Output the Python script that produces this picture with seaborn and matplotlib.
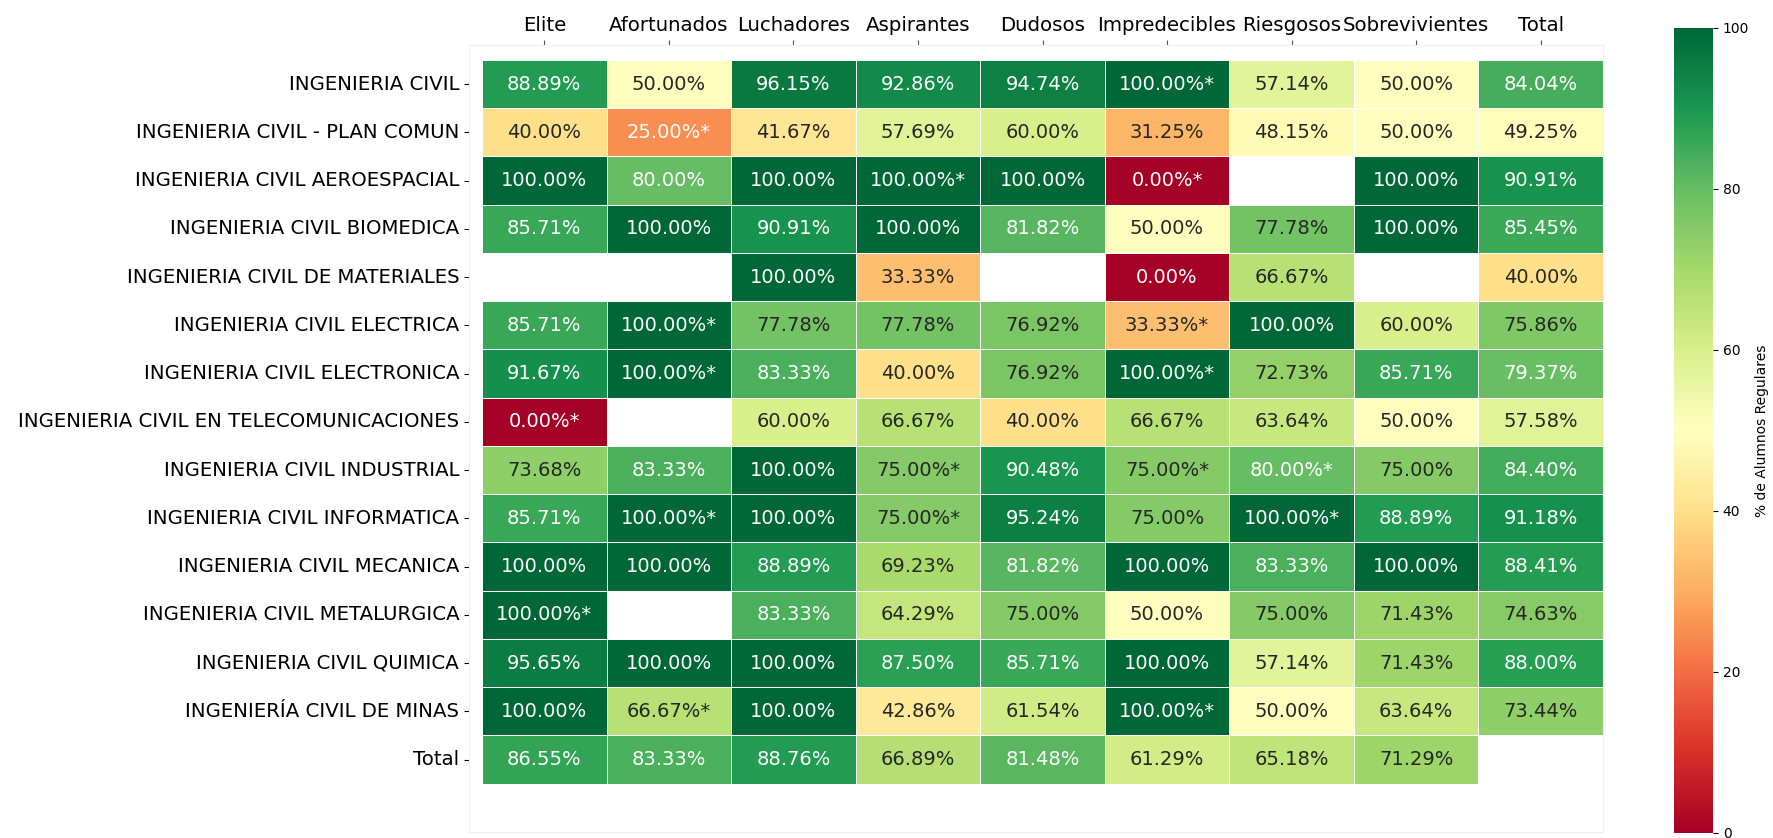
import matplotlib
matplotlib.use("Agg")
import matplotlib.pyplot as plt
import numpy as np
import pandas as pd
import seaborn as sns

nan = np.nan

columnas = ["Elite", "Afortunados", "Luchadores", "Aspirantes", "Dudosos",
            "Impredecibles", "Riesgosos", "Sobrevivientes", "Total"]

carreras = ["INGENIERIA CIVIL",
            "INGENIERIA CIVIL - PLAN COMUN",
            "INGENIERIA CIVIL AEROESPACIAL",
            "INGENIERIA CIVIL BIOMEDICA",
            "INGENIERIA CIVIL DE MATERIALES",
            "INGENIERIA CIVIL ELECTRICA",
            "INGENIERIA CIVIL ELECTRONICA",
            "INGENIERIA CIVIL EN TELECOMUNICACIONES",
            "INGENIERIA CIVIL INDUSTRIAL",
            "INGENIERIA CIVIL INFORMATICA",
            "INGENIERIA CIVIL MECANICA",
            "INGENIERIA CIVIL METALURGICA",
            "INGENIERIA CIVIL QUIMICA",
            "INGENIERÍA CIVIL DE MINAS",
            "Total"]

# % de alumnos regulares
valores = [
    [88.89, 50.00, 96.15, 92.86, 94.74, 100.00, 57.14, 50.00, 84.04],
    [40.00, 25.00, 41.67, 57.69, 60.00, 31.25, 48.15, 50.00, 49.25],
    [100.00, 80.00, 100.00, 100.00, 100.00, 0.00, nan, 100.00, 90.91],
    [85.71, 100.00, 90.91, 100.00, 81.82, 50.00, 77.78, 100.00, 85.45],
    [nan, nan, 100.00, 33.33, nan, 0.00, 66.67, nan, 40.00],
    [85.71, 100.00, 77.78, 77.78, 76.92, 33.33, 100.00, 60.00, 75.86],
    [91.67, 100.00, 83.33, 40.00, 76.92, 100.00, 72.73, 85.71, 79.37],
    [0.00, nan, 60.00, 66.67, 40.00, 66.67, 63.64, 50.00, 57.58],
    [73.68, 83.33, 100.00, 75.00, 90.48, 75.00, 80.00, 75.00, 84.40],
    [85.71, 100.00, 100.00, 75.00, 95.24, 75.00, 100.00, 88.89, 91.18],
    [100.00, 100.00, 88.89, 69.23, 81.82, 100.00, 83.33, 100.00, 88.41],
    [100.00, nan, 83.33, 64.29, 75.00, 50.00, 75.00, 71.43, 74.63],
    [95.65, 100.00, 100.00, 87.50, 85.71, 100.00, 57.14, 71.43, 88.00],
    [100.00, 66.67, 100.00, 42.86, 61.54, 100.00, 50.00, 63.64, 73.44],
    [86.55, 83.33, 88.76, 66.89, 81.48, 61.29, 65.18, 71.29, nan],
]

# celdas marcadas con "*"
asteriscos = [
    [0, 0, 0, 0, 0, 1, 0, 0, 0],
    [0, 1, 0, 0, 0, 0, 0, 0, 0],
    [0, 0, 0, 1, 0, 1, 0, 0, 0],
    [0, 0, 0, 0, 0, 0, 0, 0, 0],
    [0, 0, 0, 0, 0, 0, 0, 0, 0],
    [0, 1, 0, 0, 0, 1, 0, 0, 0],
    [0, 1, 0, 0, 0, 1, 0, 0, 0],
    [1, 0, 0, 0, 0, 0, 0, 0, 0],
    [0, 0, 0, 1, 0, 1, 1, 0, 0],
    [0, 1, 0, 1, 0, 0, 1, 0, 0],
    [0, 0, 0, 0, 0, 0, 0, 0, 0],
    [1, 0, 0, 0, 0, 0, 0, 0, 0],
    [0, 0, 0, 0, 0, 0, 0, 0, 0],
    [0, 1, 0, 0, 0, 1, 0, 0, 0],
    [0, 0, 0, 0, 0, 0, 0, 0, 0],
]

df = pd.DataFrame(valores, index=carreras, columns=columnas)
etiquetas = np.array([["" if np.isnan(v) else "%.2f%%" % v + ("*" if s else "")
                       for v, s in zip(fila, marcas)]
                      for fila, marcas in zip(valores, asteriscos)])

fig = plt.figure(figsize=(17.73, 8.38), dpi=100)
ax = fig.add_axes([0.2645, 0.0072, 0.6396, 0.9391])
cax = fig.add_axes([0.9442, 0.0060, 0.0220, 0.9606])

sns.heatmap(df, ax=ax, cbar_ax=cax, cmap="RdYlGn", vmin=0, vmax=100,
            annot=etiquetas, fmt="", annot_kws={"fontsize": 14},
            linewidths=0.5, linecolor="white",
            cbar_kws={"label": "% de Alumnos Regulares"})

ax.set_xlim(-0.105, 9)
ax.set_ylim(16, -0.31)
ax.xaxis.tick_top()
ax.set_xlabel("")
ax.set_ylabel("")
ax.tick_params(axis="x", labelsize=14.2, rotation=0, color="#555555")
ax.tick_params(axis="y", labelsize=14.2, rotation=0)
for s in ax.spines.values():
    s.set_visible(True)
    s.set_color("#f0f0f0")
    s.set_linewidth(0.8)

cax.tick_params(labelsize=10)
cax.yaxis.label.set_size(10)

fig.savefig("out.png", dpi=100)
